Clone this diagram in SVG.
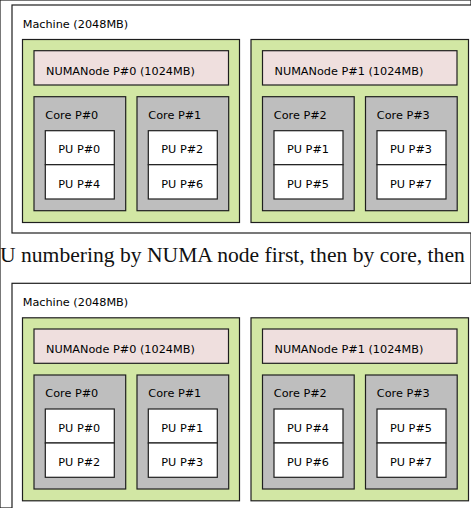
<svg xmlns="http://www.w3.org/2000/svg" width="471" height="508" viewBox="0 0 471 508">
<style>
rect{stroke:#1e1e1e;stroke-width:1.2}
.machine{fill:#ffffff}
.node{fill:#d2e7a4}
.mem{fill:#efdfde}
.core{fill:#bebebe}
.pu{fill:#ffffff}
text{font-family:"DejaVu Sans",sans-serif;font-size:11.25px;fill:#000}
.c{text-anchor:middle}
.cap{font-family:"Liberation Serif","Times New Roman",serif;font-size:21.6px;fill:#111}
</style>
<rect width="471" height="508" fill="#ffffff" stroke="none"/>
<g id="connectors"/>
<g id="diagram1">
  <g id="m1-machine"><rect class="machine" x="12" y="5" width="480" height="228"/><text x="22.7" y="27.5">Machine (2048MB)</text></g>
  <g id="m1-node0"><rect class="node" x="22.5" y="39.5" width="217" height="183"/></g>
  <g id="m1-mem0"><rect class="mem" x="34" y="50.7" width="194.5" height="34.3"/><text x="46" y="74.5">NUMANode P#0 (1024MB)</text></g>
  <g id="m1-core0"><rect class="core" x="34" y="96.7" width="91.7" height="114"/><text x="45.3" y="119">Core P#0</text></g>
  <g id="m1-pu0"><rect class="pu" x="45.3" y="130.7" width="69" height="34"/><text class="c" x="79.3" y="153.3">PU P#0</text></g>
  <g id="m1-pu4"><rect class="pu" x="45.3" y="164.7" width="69" height="34.3"/><text class="c" x="79.3" y="187.7">PU P#4</text></g>
  <g id="m1-core1"><rect class="core" x="137" y="96.7" width="91.7" height="114"/><text x="148.3" y="119">Core P#1</text></g>
  <g id="m1-pu2"><rect class="pu" x="148.3" y="130.7" width="69" height="34"/><text class="c" x="182.3" y="153.3">PU P#2</text></g>
  <g id="m1-pu6"><rect class="pu" x="148.3" y="164.7" width="69" height="34.3"/><text class="c" x="182.3" y="187.7">PU P#6</text></g>
  <g id="m1-node1"><rect class="node" x="251" y="39.5" width="217.5" height="183"/></g>
  <g id="m1-mem1"><rect class="mem" x="262.5" y="50.7" width="194.5" height="34.3"/><text x="274.5" y="74.5">NUMANode P#1 (1024MB)</text></g>
  <g id="m1-core2"><rect class="core" x="262.5" y="96.7" width="91.7" height="114"/><text x="273.8" y="119">Core P#2</text></g>
  <g id="m1-pu1"><rect class="pu" x="274" y="130.7" width="69" height="34"/><text class="c" x="308" y="153.3">PU P#1</text></g>
  <g id="m1-pu5"><rect class="pu" x="274" y="164.7" width="69" height="34.3"/><text class="c" x="308" y="187.7">PU P#5</text></g>
  <g id="m1-core3"><rect class="core" x="365.5" y="96.7" width="91.7" height="114"/><text x="376.8" y="119">Core P#3</text></g>
  <g id="m1-pu3"><rect class="pu" x="377" y="130.7" width="69" height="34"/><text class="c" x="411" y="153.3">PU P#3</text></g>
  <g id="m1-pu7"><rect class="pu" x="377" y="164.7" width="69" height="34.3"/><text class="c" x="411" y="187.7">PU P#7</text></g>
</g>
<text id="caption" class="cap" x="0" y="261.5">U numbering by NUMA node first, then by core, then</text>
<g id="diagram2" transform="translate(0,278.3)">
  <g id="m2-machine"><rect class="machine" x="12" y="5" width="480" height="240"/><text x="22.7" y="27.5">Machine (2048MB)</text></g>
  <g id="m2-node0"><rect class="node" x="22.5" y="39.5" width="217" height="183"/></g>
  <g id="m2-mem0"><rect class="mem" x="34" y="50.7" width="194.5" height="34.3"/><text x="46" y="74.5">NUMANode P#0 (1024MB)</text></g>
  <g id="m2-core0"><rect class="core" x="34" y="96.7" width="91.7" height="114"/><text x="45.3" y="119">Core P#0</text></g>
  <g id="m2-pu0"><rect class="pu" x="45.3" y="130.7" width="69" height="34"/><text class="c" x="79.3" y="153.3">PU P#0</text></g>
  <g id="m2-pu2"><rect class="pu" x="45.3" y="164.7" width="69" height="34.3"/><text class="c" x="79.3" y="187.7">PU P#2</text></g>
  <g id="m2-core1"><rect class="core" x="137" y="96.7" width="91.7" height="114"/><text x="148.3" y="119">Core P#1</text></g>
  <g id="m2-pu1"><rect class="pu" x="148.3" y="130.7" width="69" height="34"/><text class="c" x="182.3" y="153.3">PU P#1</text></g>
  <g id="m2-pu3"><rect class="pu" x="148.3" y="164.7" width="69" height="34.3"/><text class="c" x="182.3" y="187.7">PU P#3</text></g>
  <g id="m2-node1"><rect class="node" x="251" y="39.5" width="217.5" height="183"/></g>
  <g id="m2-mem1"><rect class="mem" x="262.5" y="50.7" width="194.5" height="34.3"/><text x="274.5" y="74.5">NUMANode P#1 (1024MB)</text></g>
  <g id="m2-core2"><rect class="core" x="262.5" y="96.7" width="91.7" height="114"/><text x="273.8" y="119">Core P#2</text></g>
  <g id="m2-pu4"><rect class="pu" x="274" y="130.7" width="69" height="34"/><text class="c" x="308" y="153.3">PU P#4</text></g>
  <g id="m2-pu6"><rect class="pu" x="274" y="164.7" width="69" height="34.3"/><text class="c" x="308" y="187.7">PU P#6</text></g>
  <g id="m2-core3"><rect class="core" x="365.5" y="96.7" width="91.7" height="114"/><text x="376.8" y="119">Core P#3</text></g>
  <g id="m2-pu5"><rect class="pu" x="377" y="130.7" width="69" height="34"/><text class="c" x="411" y="153.3">PU P#5</text></g>
  <g id="m2-pu7"><rect class="pu" x="377" y="164.7" width="69" height="34.3"/><text class="c" x="411" y="187.7">PU P#7</text></g>
</g>
</svg>
